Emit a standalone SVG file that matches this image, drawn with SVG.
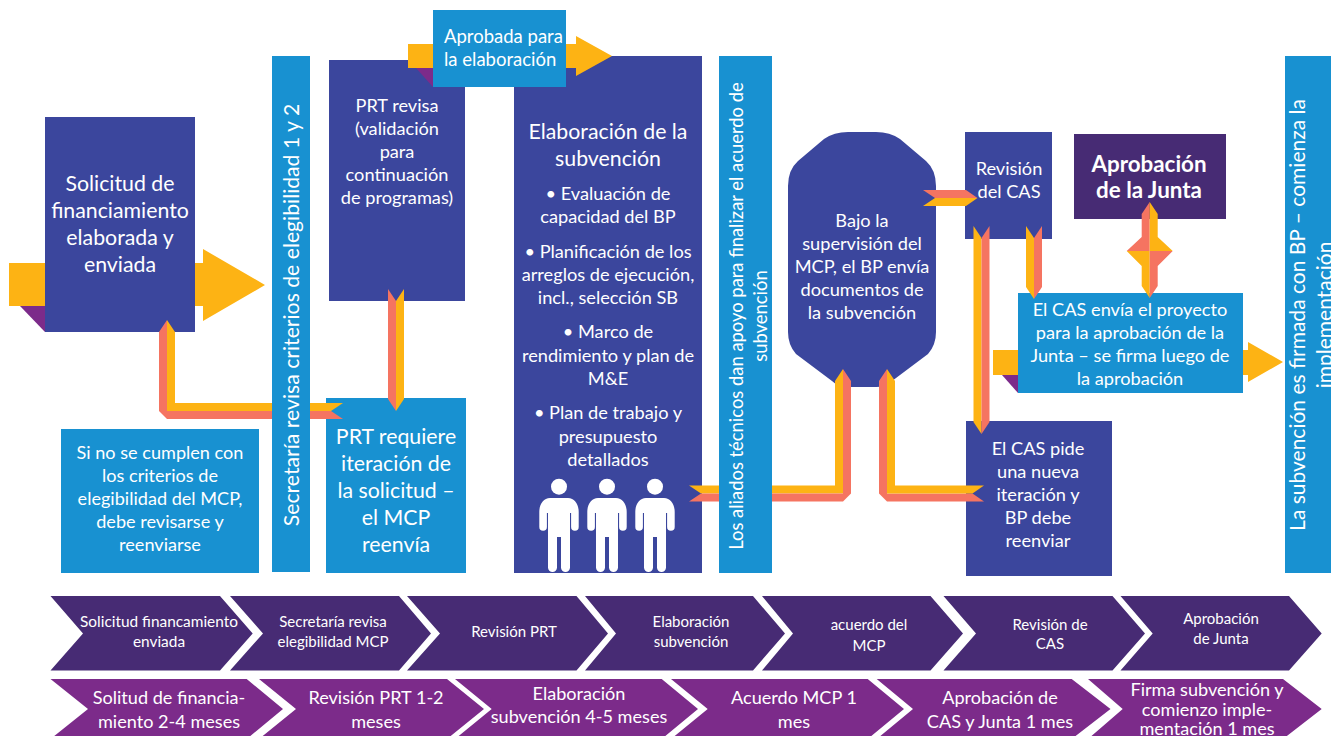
<svg xmlns="http://www.w3.org/2000/svg" width="1331" height="736" viewBox="0 0 1331 736">
<style>
text{fill:#fff;font-family:"Lato","Open Sans","Liberation Sans",sans-serif;text-anchor:middle;dominant-baseline:auto}
.s20{font-size:21.3px}.s17{font-size:18.2px}.s16{font-size:18.1px}.s13{font-size:15px}.b{font-weight:700;font-size:22.4px}
.db{fill:#3b469d}.lb{fill:#1891d1}.dp{fill:#472b74}.mp{fill:#7c2b8a}.or{fill:#fdb314}.sa{fill:#f57461}
</style>
<defs>
<g id="person" fill="#fff">
<circle cx="0" cy="486.7" r="8"/>
<path d="M-9,498H9C15.5,498 19.7,504 19.7,512V527A3.8,3.8 0 0 1 12.1,527V513L11,513V567.5A4.5,4.5 0 0 1 2,567.5V537H-2V567.5A4.5,4.5 0 0 1 -11,567.5V513L-12.1,513V527A3.8,3.8 0 0 1 -19.7,527V512C-19.7,504 -15.5,498 -9,498Z"/>
</g>
</defs>
<rect width="1331" height="736" fill="#fff"/>

<g id="n-solicitud">
<polygon class="mp" points="20,306 45,332 45,306"/>
<polygon class="or" points="9,263 203,263 203,249 265,285 203,321 203,306 9,306"/>
<rect class="db" x="45" y="117" width="150" height="215"/>
<text class="s20"><tspan x="120" y="191">Solicitud de</tspan><tspan x="120" y="218">financiamiento</tspan><tspan x="120" y="245">elaborada y</tspan><tspan x="120" y="272">enviada</tspan></text>
</g>
<g id="n-criterios-no">
<rect class="lb" x="61" y="429" width="198" height="144"/>
<text class="s16"><tspan x="160" y="459">Si no se cumplen con</tspan><tspan x="160" y="482">los criterios de</tspan><tspan x="160" y="505">elegibilidad del MCP,</tspan><tspan x="160" y="528">debe revisarse y</tspan><tspan x="160" y="551">reenviarse</tspan></text>
</g>
<g id="n-prt-revisa">
<rect class="db" x="329" y="60" width="136" height="241"/>
<text class="s17"><tspan x="397" y="112">PRT revisa</tspan><tspan x="397" y="135">(validación</tspan><tspan x="397" y="158">para</tspan><tspan x="397" y="181">continuación</tspan><tspan x="397" y="204">de programas)</tspan></text>
</g>
<g id="n-prt-requiere">
<rect class="lb" x="326" y="398" width="140" height="175"/>
<text class="s20"><tspan x="396" y="444">PRT requiere</tspan><tspan x="396" y="471">iteración de</tspan><tspan x="396" y="498">la solicitud –</tspan><tspan x="396" y="525">el MCP</tspan><tspan x="396" y="552">reenvía</tspan></text>
</g>
<g id="n-elaboracion">
<rect class="db" x="514" y="56" width="188" height="517"/>
<text class="s20"><tspan x="608" y="139">Elaboración de la</tspan><tspan x="608" y="166">subvención</tspan></text>
<text class="s17"><tspan x="608" y="200">• Evaluación de</tspan><tspan x="608" y="223">capacidad del BP</tspan><tspan x="608" y="258">• Planificación de los</tspan><tspan x="608" y="281">arreglos de ejecución,</tspan><tspan x="608" y="304">incl., selección SB</tspan><tspan x="608" y="338">• Marco de</tspan><tspan x="608" y="362">rendimiento y plan de</tspan><tspan x="608" y="385">M&amp;E</tspan><tspan x="608" y="419">• Plan de trabajo y</tspan><tspan x="608" y="443">presupuesto</tspan><tspan x="608" y="466">detallados</tspan></text>
<use href="#person" x="559"/><use href="#person" x="607"/><use href="#person" x="655"/>
</g>
<g id="n-aprobada">
<polygon class="mp" points="416,68 433,87 433,68"/>
<polygon class="or" points="408,44 576,44 576,36 612,56 576,76 576,68 408,68"/>
<rect class="lb" x="433" y="10" width="133" height="77"/>
<text class="s17" style="text-anchor:start;font-size:18.5px"><tspan x="444" y="43">Aprobada para</tspan><tspan x="444" y="66">la elaboración</tspan></text>
</g>
<g id="n-bajo">
<path class="db" d="M848,132H876Q890,132 900,139L926,161Q936,170 936,186V332Q936,345 928,354L892,381Q886,387 876,387H848Q838,387 832,381L796,354Q788,345 788,332V186Q788,170 798,161L824,139Q834,132 848,132Z"/>
<text class="s17"><tspan x="862" y="227">Bajo la</tspan><tspan x="862" y="250">supervisión del</tspan><tspan x="862" y="273">MCP, el BP envía</tspan><tspan x="862" y="296">documentos de</tspan><tspan x="862" y="319">la subvención</tspan></text>
</g>
<g id="n-revision-cas">
<rect class="db" x="965" y="132" width="87" height="107"/>
<text class="s17"><tspan x="1009" y="175">Revisión</tspan><tspan x="1009" y="198">del CAS</tspan></text>
</g>
<g id="n-aprobacion-junta">
<rect class="dp" x="1074" y="134" width="152" height="85"/>
<text class="b"><tspan x="1149" y="172">Aprobación</tspan><tspan x="1149" y="198">de la Junta</tspan></text>
</g>
<g id="n-cas-envia">
<polygon class="mp" points="1002,375 1018,393 1018,375"/>
<polygon class="or" points="993,350 1248,350 1248,342 1283,362 1248,382 1248,375 993,375"/>
<rect class="lb" x="1018" y="293" width="225" height="100"/>
<text class="s17"><tspan x="1130" y="316">El CAS envía el proyecto</tspan><tspan x="1130" y="339">para la aprobación de la</tspan><tspan x="1130" y="362">Junta – se firma luego de</tspan><tspan x="1130" y="385">la aprobación</tspan></text>
</g>
<g id="n-cas-pide">
<rect class="db" x="966" y="421" width="146" height="155"/>
<text class="s17"><tspan x="1038" y="455">El CAS pide</tspan><tspan x="1038" y="478">una nueva</tspan><tspan x="1038" y="501">iteración y</tspan><tspan x="1038" y="524">BP debe</tspan><tspan x="1038" y="547">reenviar</tspan></text>
</g>

<g id="connectors">
<polygon class="sa" points="167,320 159,332 159,411 167,419 343,419 331,411 167,411"/>
<polygon class="or" points="167,320 175,332 175,403 343,403 331,411 167,411"/>

<polygon class="sa" points="388,289 396,301 396,411 388,399"/>
<polygon class="or" points="404,289 396,301 396,411 404,399"/>

<polygon class="or" points="689,485.5 835,485.5 835,381 843,369 843,493.5 701,493.5"/>
<polygon class="sa" points="689,501.5 843,501.5 851,493.5 851,381 843,369 843,493.5 701,493.5"/>

<polygon class="sa" points="887,369 879,381 879,493.5 887,501.5 984,501.5 972.5,493.5 887,493.5"/>
<polygon class="or" points="887,369 895,381 895,485.5 984,485.5 972.5,493.5 887,493.5"/>

<polygon class="sa" points="923,190 966,190 977.5,198 935,198"/>
<polygon class="or" points="923,206 966,206 977.5,198 935,198"/>

<polygon class="or" points="973.5,226 981.5,238 981.5,434 973.5,422"/>
<polygon class="sa" points="989.5,226 981.5,238 981.5,434 989.5,422"/>

<polygon class="or" points="1026,226 1034,238 1034,299 1026,287"/>
<polygon class="sa" points="1042,226 1034,238 1034,299 1042,287"/>

<polygon class="sa" points="1149.7,202 1141.7,214 1141.7,237 1126.7,251 1149.7,251"/>
<polygon class="or" points="1149.7,202 1157.7,214 1157.7,237 1172.7,251 1149.7,251"/>
<polygon class="or" points="1126.7,251 1141.7,266 1141.7,286 1149.7,298 1149.7,251"/>
<polygon class="sa" points="1172.7,251 1157.7,266 1157.7,286 1149.7,298 1149.7,251"/>
</g>

<g id="n-secretaria">
<rect class="lb" x="272" y="56" width="38" height="516"/>
<text transform="translate(299 315) rotate(-90)" style="font-size:21.2px">Secretaría revisa criterios de elegibilidad 1 y 2</text>
</g>
<g id="n-aliados">
<rect class="lb" x="719" y="56" width="53" height="517"/>
<text transform="translate(743 316) rotate(-90)" style="font-size:18.4px">Los aliados técnicos dan apoyo para finalizar el acuerdo de</text>
<text transform="translate(767 316) rotate(-90)" style="font-size:18.4px">subvención</text>
</g>
<g id="n-firmada">
<rect class="lb" x="1285" y="56" width="46" height="517"/>
<text transform="translate(1305 315) rotate(-90)" style="font-size:21px">La subvención es firmada con BP – comienza la</text>
<text transform="translate(1332 315) rotate(-90)" style="font-size:21px">implementación</text>
</g>

<g id="n-fase-1">
<polygon class="dp" points="50.5,596 220,596 252.7,633.5 220,670.5 50.5,670.5 83,633.5"/>
<text class="s13" style="font-size:15.4px"><tspan x="159" y="627">Solicitud financamiento</tspan><tspan x="159" y="647">enviada</tspan></text>
</g>
<g id="n-fase-2">
<polygon class="dp" points="230,596 399,596 431,633.5 399,670.5 230,670.5 263,633.5"/>
<text class="s13"><tspan x="333" y="627">Secretaría revisa</tspan><tspan x="333" y="647">elegibilidad MCP</tspan></text>
</g>
<g id="n-fase-3">
<polygon class="dp" points="407,596 576.5,596 608,633.5 576.5,670.5 407,670.5 440,633.5"/>
<text class="s13"><tspan x="514" y="637">Revisión PRT</tspan></text>
</g>
<g id="n-fase-4">
<polygon class="dp" points="585,596 753,596 785,633.5 753,670.5 585,670.5 616,633.5"/>
<text class="s13"><tspan x="691" y="627">Elaboración</tspan><tspan x="691" y="647">subvención</tspan></text>
</g>
<g id="n-fase-5">
<polygon class="dp" points="762,596 930.5,596 963,633.5 930.5,670.5 762,670.5 793,633.5"/>
<text class="s13"><tspan x="869" y="630">acuerdo del</tspan><tspan x="869" y="651">MCP</tspan></text>
</g>
<g id="n-fase-6">
<polygon class="dp" points="943.5,596 1112.5,596 1145,633.5 1112.5,670.5 943.5,670.5 976,633.5"/>
<text class="s13"><tspan x="1050" y="630">Revisión de</tspan><tspan x="1050" y="649">CAS</tspan></text>
</g>
<g id="n-fase-7">
<polygon class="dp" points="1120.5,596 1289,596 1321.7,633.5 1289,670.5 1120.5,670.5 1152.7,633.5"/>
<text class="s13"><tspan x="1221" y="624">Aprobación</tspan><tspan x="1221" y="644">de Junta</tspan></text>
</g>

<g id="n-plazo-1">
<polygon class="mp" points="50.5,679 246.7,679 283,709 246.7,739 50.5,739 88,709"/>
<text class="s16"><tspan x="169" y="704">Solitud de financia-</tspan><tspan x="169" y="728">miento 2-4 meses</tspan></text>
</g>
<g id="n-plazo-2">
<polygon class="mp" points="259,679 447,679 484,709 447,739 259,739 296,709"/>
<text class="s16"><tspan x="376" y="704">Revisión PRT 1-2</tspan><tspan x="376" y="728">meses</tspan></text>
</g>
<g id="n-plazo-3">
<polygon class="mp" points="455,679 661.7,679 698,709 661.7,739 455,739 491.7,709"/>
<text class="s16"><tspan x="579" y="700">Elaboración</tspan><tspan x="579" y="723">subvención 4-5 meses</tspan></text>
</g>
<g id="n-plazo-4">
<polygon class="mp" points="671,679 867.7,679 904,709 867.7,739 671,739 707.7,709"/>
<text class="s16"><tspan x="794" y="704">Acuerdo MCP 1</tspan><tspan x="794" y="728">mes</tspan></text>
</g>
<g id="n-plazo-5">
<polygon class="mp" points="876.7,679 1071.7,679 1110.5,709 1071.7,739 876.7,739 913,709"/>
<text class="s16"><tspan x="1000" y="704">Aprobación de</tspan><tspan x="1000" y="728">CAS y Junta 1 mes</tspan></text>
</g>
<g id="n-plazo-6">
<polygon class="mp" points="1088,679 1283,679 1321.7,709 1283,739 1088,739 1122.7,709"/>
<text class="s16"><tspan x="1207" y="696">Firma subvención y</tspan><tspan x="1207" y="716">comienzo imple-</tspan><tspan x="1207" y="735">mentación 1 mes</tspan></text>
</g>
</svg>
